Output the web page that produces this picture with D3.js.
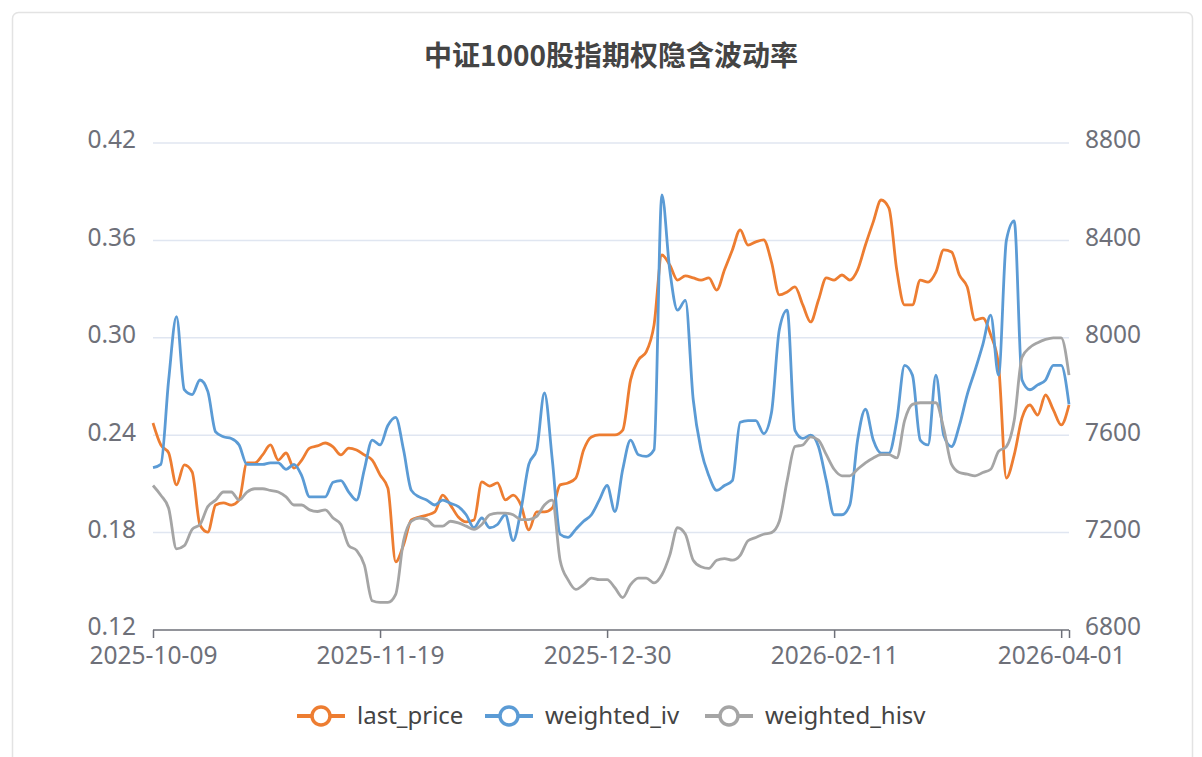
<!DOCTYPE html>
<html>
<head>
<meta charset="utf-8">
<script src="https://cdn.jsdelivr.net/npm/d3@7"></script>
<style>
  body { margin: 0; background: #fff; }
  svg { display: block; }
  text { font-family: "Noto Sans", "Noto Sans CJK SC", sans-serif; }
</style>
</head>
<body>
<svg id="chart" width="1202" height="757"></svg>
<script>
// trading calendar: weekdays from first to last date, minus exchange holidays
const firstDay = "2025-10-09";
const lastDay = "2026-04-02";
const holidays = ["2026-01-01", "2026-01-02", "2026-02-16", "2026-02-17",
                  "2026-02-18", "2026-02-19", "2026-02-20", "2026-02-23"];
const tickLabels = ["2025-10-09", "2025-11-19", "2025-12-30", "2026-02-11", "2026-04-01"];

const leftTicks = [0.12, 0.18, 0.24, 0.30, 0.36, 0.42];
const rightTicks = [6800, 7200, 7600, 8000, 8400, 8800];

// 中证1000 index close (right axis)
const lastPrice = [
  7650, 7560, 7527, 7396, 7478, 7449, 7231, 7202, 7313, 7322,
  7313, 7334, 7486, 7486, 7519, 7560, 7498, 7527, 7465, 7498,
  7547, 7556, 7568, 7552, 7519, 7547, 7539, 7519, 7498, 7437,
  7383, 7080, 7149, 7252, 7264, 7272, 7285, 7354, 7313, 7264,
  7244, 7252, 7408, 7391, 7404, 7334, 7354, 7313, 7211, 7285,
  7285, 7301, 7396, 7404, 7424, 7539, 7593, 7601, 7601, 7601,
  7621, 7827, 7909, 7942, 8053, 8340, 8299, 8237, 8254, 8246,
  8237, 8246, 8196, 8279, 8361, 8443, 8381, 8394, 8402, 8311,
  8176, 8188, 8209, 8135, 8065, 8155, 8246, 8237, 8258, 8237,
  8279, 8381, 8476, 8566, 8533, 8279, 8135, 8135, 8237, 8229,
  8270, 8361, 8352, 8258, 8209, 8073, 8081, 8012, 7888, 7424,
  7519, 7671, 7724, 7683, 7765, 7704, 7642, 7724
];

// implied vol (left axis)
const weightedIv = [
  0.220, 0.222, 0.274, 0.313, 0.268, 0.265, 0.274, 0.267, 0.242, 0.239,
  0.238, 0.234, 0.222, 0.222, 0.222, 0.223, 0.223, 0.219, 0.222, 0.215,
  0.202, 0.202, 0.202, 0.211, 0.212, 0.205, 0.200, 0.219, 0.237, 0.234,
  0.246, 0.251, 0.231, 0.206, 0.202, 0.200, 0.197, 0.200, 0.198, 0.196,
  0.191, 0.183, 0.189, 0.183, 0.185, 0.191, 0.175, 0.194, 0.222, 0.231,
  0.266, 0.225, 0.179, 0.177, 0.182, 0.187, 0.191, 0.200, 0.209, 0.193,
  0.219, 0.237, 0.228, 0.227, 0.231, 0.388, 0.342, 0.317, 0.323, 0.262,
  0.231, 0.215, 0.206, 0.209, 0.212, 0.248, 0.249, 0.249, 0.241, 0.254,
  0.305, 0.317, 0.243, 0.238, 0.240, 0.233, 0.212, 0.191, 0.191, 0.197,
  0.237, 0.256, 0.237, 0.229, 0.229, 0.249, 0.283, 0.277, 0.237, 0.234,
  0.277, 0.240, 0.233, 0.246, 0.265, 0.280, 0.296, 0.314, 0.277, 0.360,
  0.372, 0.274, 0.268, 0.271, 0.274, 0.283, 0.283, 0.259
];

// historical vol (left axis)
const weightedHisv = [
  0.209, 0.203, 0.195, 0.170, 0.172, 0.182, 0.185, 0.196, 0.200, 0.205,
  0.205, 0.200, 0.205, 0.207, 0.207, 0.206, 0.205, 0.202, 0.197, 0.197,
  0.194, 0.193, 0.194, 0.189, 0.185, 0.172, 0.169, 0.160, 0.138, 0.137,
  0.137, 0.142, 0.175, 0.187, 0.189, 0.188, 0.184, 0.184, 0.187, 0.186,
  0.184, 0.182, 0.185, 0.191, 0.192, 0.192, 0.191, 0.188, 0.188, 0.190,
  0.197, 0.200, 0.163, 0.151, 0.145, 0.148, 0.152, 0.151, 0.151, 0.146,
  0.140, 0.148, 0.152, 0.152, 0.149, 0.154, 0.166, 0.183, 0.179, 0.163,
  0.159, 0.158, 0.163, 0.164, 0.163, 0.166, 0.175, 0.177, 0.179, 0.180,
  0.187, 0.212, 0.233, 0.234, 0.239, 0.237, 0.228, 0.219, 0.215, 0.215,
  0.219, 0.223, 0.226, 0.228, 0.228, 0.226, 0.249, 0.259, 0.260, 0.260,
  0.260, 0.244, 0.222, 0.217, 0.216, 0.215, 0.217, 0.219, 0.230, 0.233,
  0.249, 0.288, 0.294, 0.297, 0.299, 0.300, 0.300, 0.277
];

const fmt = d3.timeFormat("%Y-%m-%d");
let dates = d3.timeDay.range(new Date(firstDay + "T00:00"), d3.timeDay.offset(new Date(lastDay + "T00:00"), 1))
  .filter(d => d.getDay() !== 0 && d.getDay() !== 6)
  .map(fmt)
  .filter(d => !holidays.includes(d));

let svg = d3.select('#chart');
let plotLeft = 153, plotRight = 1069, plotTop = 143, plotBottom = 630;

// card outline
svg.append('rect')
   .attr('x', 12.5).attr('y', 12.5)
   .attr('width', 1180).attr('height', 780)
   .attr('rx', 6)
   .attr('fill', '#fff')
   .attr('stroke', '#e3e3e3')
   .attr('stroke-width', 1.5);

svg.append('text')
   .attr('x', 611).attr('y', 66)
   .attr('text-anchor', 'middle')
   .style('font-family', '"Noto Sans CJK SC", sans-serif')
   .style('font-size', '28px')
   .style('font-weight', 'bold')
   .attr('fill', '#444')
   .text('中证1000股指期权隐含波动率');

let xscale = d3.scalePoint().domain(dates).range([plotLeft, plotRight]);
let yscale = d3.scaleLinear().domain([0.12, 0.42]).range([plotBottom, plotTop]);
let pscale = d3.scaleLinear().domain([6800, 8800]).range([plotBottom, plotTop]);

// grid
svg.append('g')
   .selectAll('line')
   .data(leftTicks.slice(1))
   .enter()
   .append('line')
   .attr('x1', plotLeft).attr('x2', plotRight)
   .attr('y1', d => yscale(d)).attr('y2', d => yscale(d))
   .attr('stroke', '#e0e6f1')
   .attr('stroke-width', 1.5);

let yaxis = d3.axisLeft(yscale).tickValues(leftTicks).tickFormat(d3.format('.2f')).tickSize(0).tickPadding(17);
let paxis = d3.axisRight(pscale).tickValues(rightTicks).tickFormat(d3.format('d')).tickSize(0).tickPadding(16);

svg.append('g').attr('transform', `translate(${plotLeft},-3)`).call(yaxis)
   .call(g => g.select('.domain').remove());
svg.append('g').attr('transform', `translate(${plotRight},-3)`).call(paxis)
   .call(g => g.select('.domain').remove());

let xaxis = d3.axisBottom(xscale)
              .tickValues(tickLabels.concat([dates[dates.length - 1]]))
              .tickFormat(d => tickLabels.includes(d) ? d : '')
              .tickSizeOuter(0)
              .tickSize(8)
              .tickPadding(9);
svg.append('g').attr('transform', `translate(0,${plotBottom})`).call(xaxis)
   .call(g => g.select('.domain').attr('d', `M${plotLeft},0H${plotRight}`));

svg.selectAll('.tick text')
   .attr('fill', '#6e7079')
   .style('font-size', '24.5px');
svg.selectAll('.tick line').attr('stroke', '#6e7079').attr('stroke-width', 1.5);
svg.selectAll('.domain').attr('stroke', '#6e7079').attr('stroke-width', 1.5);

// lines
let series = [
  { name: 'last_price', values: lastPrice, scale: pscale, color: '#ed7d31' },
  { name: 'weighted_iv', values: weightedIv, scale: yscale, color: '#5b9bd5' },
  { name: 'weighted_hisv', values: weightedHisv, scale: yscale, color: '#a5a5a5' }
];

series.forEach(s => {
  let line = d3.line()
               .x((d, i) => xscale(dates[i]))
               .y(d => s.scale(d))
               .curve(d3.curveMonotoneX);
  svg.append('path')
     .datum(s.values)
     .attr('d', line)
     .attr('fill', 'none')
     .attr('stroke', s.color)
     .attr('stroke-width', 2.8)
     .attr('stroke-linejoin', 'round');
});

// legend
let legendX = [297, 485, 705];
let legend = svg.append('g')
   .selectAll('g')
   .data(series)
   .enter()
   .append('g')
   .attr('transform', (d, i) => `translate(${legendX[i]},716)`);
legend.append('line')
      .attr('x1', 0).attr('x2', 48)
      .attr('stroke', d => d.color)
      .attr('stroke-width', 4);
legend.append('circle')
      .attr('cx', 24).attr('r', 9)
      .attr('fill', '#fff')
      .attr('stroke', d => d.color)
      .attr('stroke-width', 3.5);
legend.append('text')
      .attr('x', 60).attr('dy', '0.33em')
      .style('font-size', '24px')
      .attr('fill', '#444')
      .text(d => d.name);
</script>
</body>
</html>
